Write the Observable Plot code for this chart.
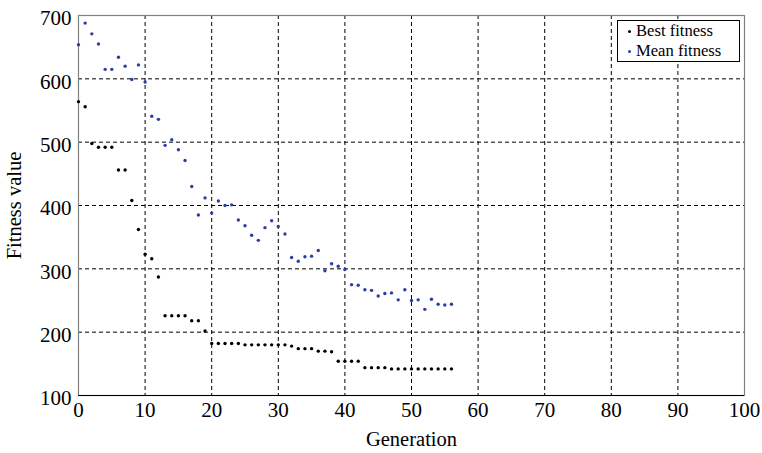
<!DOCTYPE html>
<html><head><meta charset="utf-8">
<script src="https://cdn.jsdelivr.net/npm/d3@7"></script>
<script src="https://cdn.jsdelivr.net/npm/@observablehq/plot@0.6"></script>
<style>
body{margin:0;background:#fff}
#wrap{position:relative;width:762px;height:453px;font-family:"Liberation Serif","DejaVu Serif",serif}
.legend{position:absolute;left:617px;top:20px;width:123px;height:42px;border:1px solid #000;background:#fff;font-size:16.6px;line-height:20px;padding:0 0 0 10px;box-sizing:border-box}
.legend div{white-space:nowrap}
.legend span{display:inline-block;width:3px;height:3px;border-radius:50%;margin-right:5px;vertical-align:middle;position:relative;top:-1px}
</style>
</head><body><div id="wrap"></div>
<script>
const generations = [0,1,2,3,4,5,6,7,8,9,10,11,12,13,14,15,16,17,18,19,20,21,22,23,24,25,26,27,28,29,30,31,32,33,34,35,36,37,38,39,40,41,42,43,44,45,46,47,48,49,50,51,52,53,54,55,56];
const bestFitness = [564,556,498,492,492,492,456,456,408,362,323,316,287,226,226,226,226,218,218,202,182,182,182,182,182,180,180,180,180,180,180,180,178,174,174,174,170,170,169,154,154,154,154,144,144,144,144,142,142,142,142,142,142,142,142,142,142];
const meanFitness = [654,688,671,655,615,615,634,620,599,622,595,541,536,495,504,488,471,430,385,412,388,407,400,401,377,368,353,345,365,376,367,355,318,312,319,320,329,297,308,304,299,275,274,267,266,257,261,262,251,267,250,251,236,252,244,243,244];
const xTicks = [0,10,20,30,40,50,60,70,80,90,100];
const yTicks = [100,200,300,400,500,600,700];
const seriesNames = ["Best fitness","Mean fitness"];
const seriesColors = ["#000000","#2a3ea8"];

const best = generations.map((g,i)=>({g, v: bestFitness[i]}));
const mean = generations.map((g,i)=>({g, v: meanFitness[i]}));

const chart = Plot.plot({
  width: 762, height: 453,
  marginLeft: 78, marginRight: 18, marginTop: 15, marginBottom: 58,
  style: {fontFamily: '"Liberation Serif","DejaVu Serif",serif', fontSize: "20px", color: "#000", background: "#fff"},
  x: {domain: [0,100], ticks: xTicks},
  y: {domain: [100,700], ticks: yTicks},
  marks: [
    Plot.gridX(xTicks.slice(1,-1), {stroke: "#000", strokeOpacity: 1, strokeDasharray: "4,3", strokeWidth: 1}),
    Plot.gridY(yTicks.slice(1,-1), {stroke: "#000", strokeOpacity: 1, strokeDasharray: "4,3", strokeWidth: 1}),
    Plot.frame({stroke: "#808080", strokeWidth: 1.2}),
    Plot.ruleY([100], {stroke: "#000", strokeWidth: 1.2}),
    Plot.axisX({ticks: xTicks, tickSize: 0, tickPadding: 7, fontSize: 21, label: null}),
    Plot.axisX({ticks: [], tickSize: 0, label: "Generation", labelAnchor: "center", labelArrow: "none", labelOffset: 50, fontSize: 20.5}),
    Plot.axisY({ticks: yTicks, tickSize: 0, tickPadding: 7, dy: 3, fontSize: 21, label: null}),
    Plot.axisY({ticks: [], tickSize: 0, label: "Fitness value", labelAnchor: "center", labelArrow: "none", labelOffset: 72, fontSize: 20.5}),
    Plot.dot(best, {x: "g", y: "v", r: 1.7, fill: seriesColors[0], stroke: "none"}),
    Plot.dot(mean, {x: "g", y: "v", r: 1.7, fill: seriesColors[1], stroke: "none"})
  ]
});
const wrap = document.getElementById("wrap");
wrap.appendChild(chart);
const leg = document.createElement("div");
leg.className = "legend";
leg.innerHTML = seriesNames.map((n,i)=>`<div><span style="background:${seriesColors[i]}"></span>${n}</div>`).join("");
wrap.appendChild(leg);
</script>
</body></html>
